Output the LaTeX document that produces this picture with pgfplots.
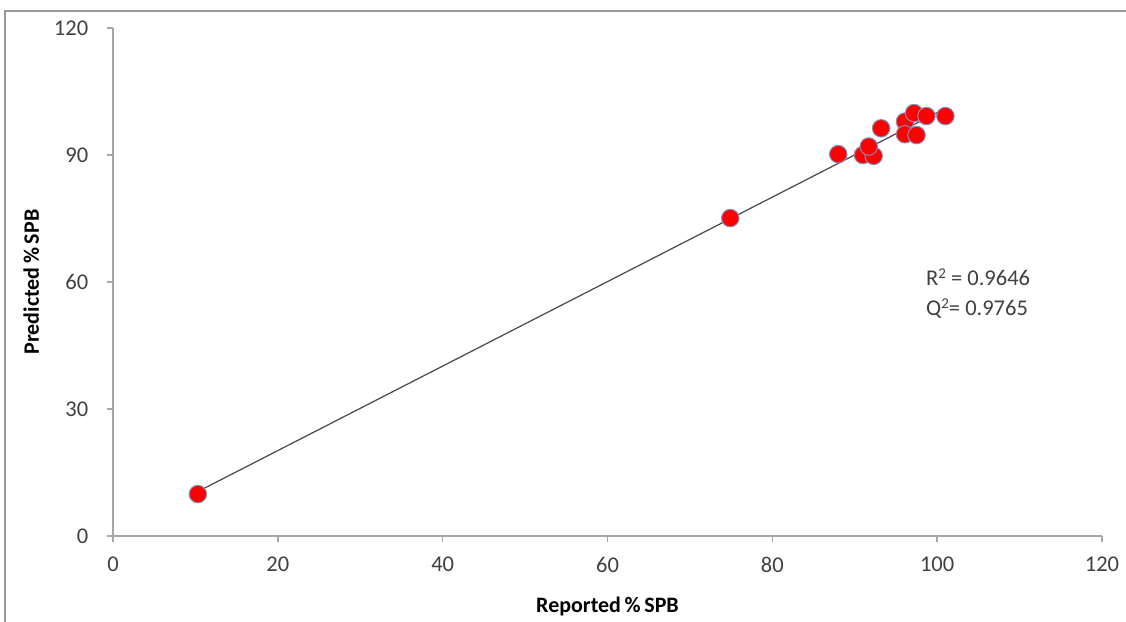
\documentclass[border=0pt]{standalone}
\usepackage{pgfplots}
\pgfplotsset{compat=1.18}
\usepackage{fontspec}
\setmainfont{Carlito}
\definecolor{axgray}{HTML}{A6A6A6}
\definecolor{ticktext}{HTML}{404040}
\definecolor{mkedge}{HTML}{7F8FC0}
\begin{document}
\begin{tikzpicture}
\useasboundingbox (-45.2pt,-34.4pt) rectangle (405.2pt,214.4pt);
\draw[gray!80, line width=0.7pt] (-43.2pt,-40pt) -- (-43.2pt,210pt) -- (410pt,210pt);
\begin{axis}[
  at={(0,0)}, anchor=south west,
  scale only axis, width=395.6pt, height=203.2pt,
  xmin=0, xmax=120, ymin=0, ymax=120,
  xtick={0,20,...,120}, ytick={0,30,...,120},
  axis x line=bottom, axis y line=left,
  axis line style={-, axgray, line width=0.8pt},
  tick style={axgray, line width=0.6pt},
  tick align=outside, major tick length=2.4pt,
  ticklabel style={font=\fontsize{9}{10}\selectfont, text=ticktext},
  /pgf/number format/assume math mode=true,
  xticklabel style={yshift=-2.5pt},
  yticklabel style={xshift=-4pt},
  xlabel={\textbf{Reported\,\%\,SPB}},
  ylabel={\textbf{Predicted\,\%\,SPB}},
  label style={font=\fontsize{8.8}{10}\selectfont},
  xlabel style={at={(axis description cs:0.5,0)}, anchor=north, yshift=-21pt},
  ylabel style={at={(axis description cs:0,0.5)}, anchor=south, yshift=26pt},
  clip=false,
]
\addplot[no marks, color=black!70, line width=0.5pt] coordinates {(10.3,10.5) (101,101)};
\addplot[only marks, mark=*, mark size=3.5pt,
  mark options={fill=red, draw=mkedge, line width=0.4pt}] coordinates {
  (10.3,9.9) (74.9,75.1) (88.0,90.2) (91.0,90.0) (92.3,89.8) (91.7,92.0)
  (93.2,96.3) (96.1,97.9) (96.1,94.9) (97.5,94.7) (97.2,99.9) (98.7,99.2) (101.0,99.2)
};
\node[anchor=west, align=left, font=\fontsize{9}{11}\selectfont, text=ticktext] at (axis cs:97.6,57.3)
  {R{\fontsize{6}{6}\selectfont\raisebox{0.45em}{2}} = 0.9646\\[1pt]Q{\fontsize{6}{6}\selectfont\raisebox{0.45em}{2}}= 0.9765};
\end{axis}
\end{tikzpicture}
\end{document}
